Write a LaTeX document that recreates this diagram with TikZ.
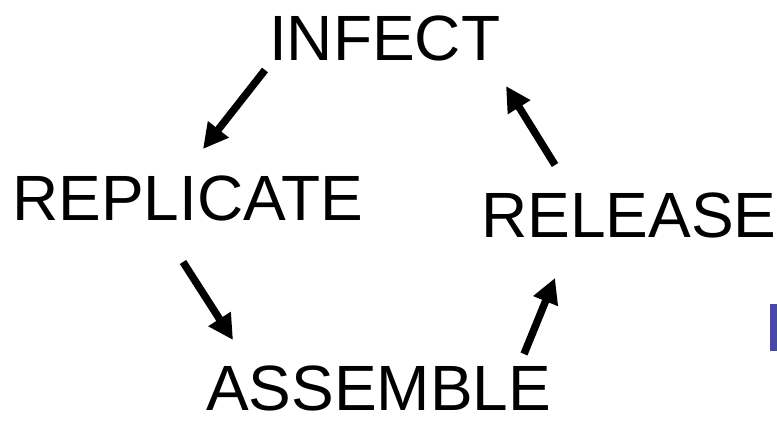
\documentclass[tikz,border=0pt]{standalone}
\usepackage{fontspec}
\setmainfont{Liberation Sans}
\usetikzlibrary{arrows.meta}
\definecolor{blueedge}{RGB}{72,72,170}
\tikzset{
  lbl/.style={anchor=base west, inner sep=0pt, font=\fontsize{64}{64}\selectfont},
  cyc/.style={line width=7.5pt, -{Triangle[length=25pt,width=25pt]}}
}
\begin{document}
\begin{tikzpicture}[x=1pt,y=-1pt]
\useasboundingbox (0,0) rectangle (777,432);
\node[lbl] (infect) at (269,60) {INFECT};
\node[lbl] (replicate) at (12,220) {REPLICATE};
\node[lbl] (release) at (481,237) {RELEASE};
\node[lbl] (assemble) at (206,410) {ASSEMBLE};
\coordinate (a1s) at (265,70);
\coordinate (a1e) at (203,149);
\coordinate (a2s) at (183,262);
\coordinate (a2e) at (233,340);
\coordinate (a3s) at (524,354);
\coordinate (a3e) at (555,278);
\coordinate (a4s) at (555,165);
\coordinate (a4e) at (506,86);
\draw[cyc] (a1s) -- (a1e);
\draw[cyc] (a2s) -- (a2e);
\draw[cyc] (a3s) -- (a3e);
\draw[cyc] (a4s) -- (a4e);
\fill[blueedge] (770,304) rectangle (777,351);
\end{tikzpicture}
\end{document}
